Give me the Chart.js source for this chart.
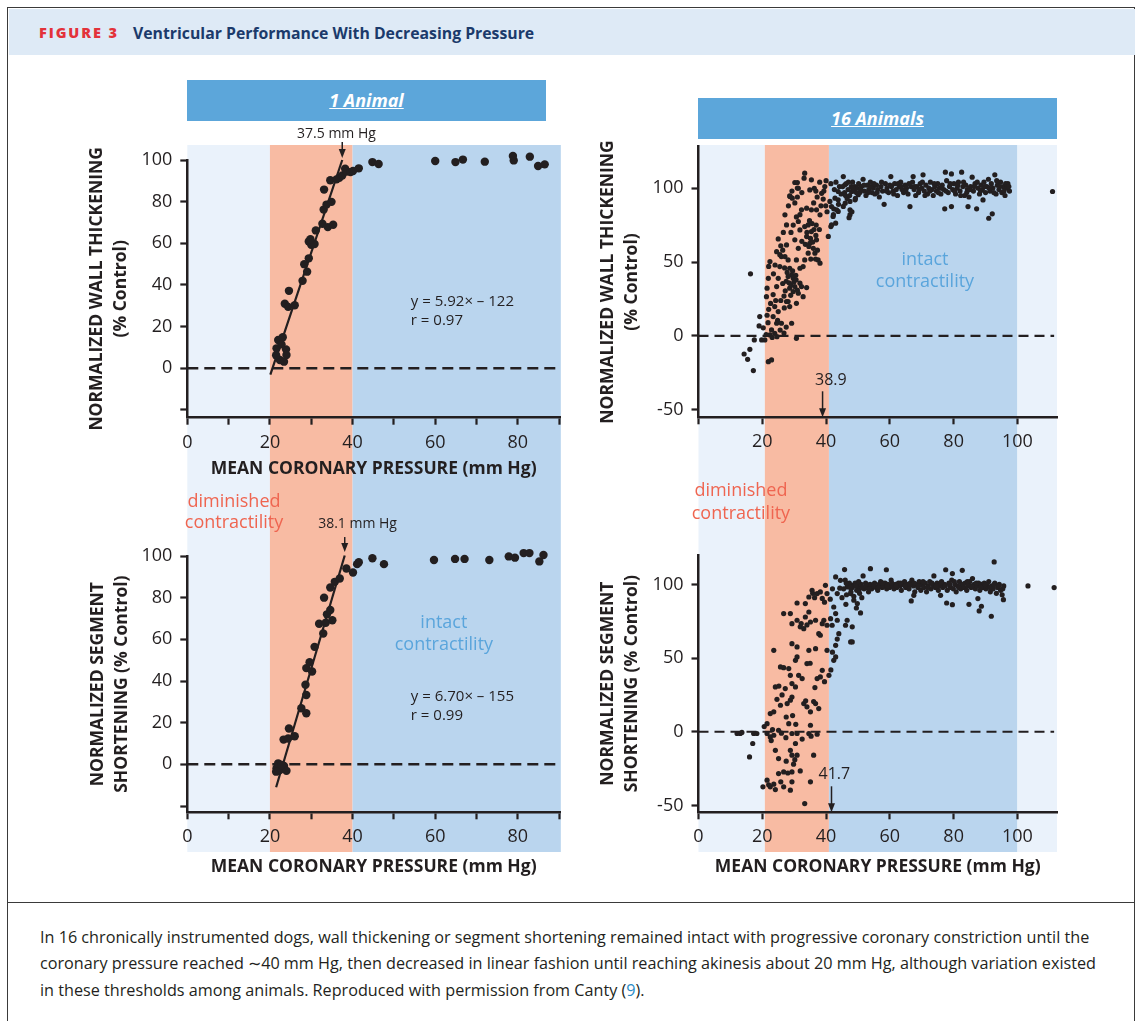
<!DOCTYPE html>
<html>
<head>
<meta charset="utf-8">
<script src="https://cdn.jsdelivr.net/npm/chart.js@4.4.1/dist/chart.umd.min.js"></script>
<style>
  body { margin: 0; width: 1142px; height: 1021px; position: relative; overflow: hidden; background: #fff; font-family: 'Open Sans', sans-serif; color: #231f20; }
  .frame { position: absolute; left: 7px; top: 7px; width: 1126px; height: 1040px; border: 1.5px solid #3a3a3a; }
  .head { position: absolute; left: 8.5px; top: 8.5px; width: 1126px; height: 46px; background: #deeaf6; }
  .fig { position: absolute; left: 39px; top: 23px; line-height: 20px; font-size: 14.5px; font-weight: 800; letter-spacing: 1.9px; color: #e3323a; }
  .ttl { position: absolute; left: 133px; top: 23px; line-height: 20px; font-size: 15.8px; font-weight: 700; color: #1b3a6b; }
  .sep { position: absolute; left: 7px; top: 902px; width: 1128px; border-top: 1.5px solid #3a3a3a; }
  .bar { position: absolute; width: 359px; height: 41px; background: #5ca6da; color: #fff; font-weight: 700; font-style: italic; font-size: 18px; text-align: center; line-height: 41px; text-decoration: underline; }
  canvas { position: absolute; }
  .cap { position: absolute; left: 40px; top: 924px; font-size: 16.2px; line-height: 26.3px; white-space: nowrap; }
  .cap span { color: #2a8cc6; }
</style>
</head>
<body>
<div class="frame"></div>
<div class="head"></div>
<div class="fig">FIGURE 3</div>
<div class="ttl">Ventricular Performance With Decreasing Pressure</div>
<div class="bar" style="left:187px; top:80px;">1 Animal</div>
<div class="bar" style="left:698px; top:98px;">16 Animals</div>
<canvas id="wallOneChart" width="490" height="355" style="left:80px; top:125px;"></canvas>
<canvas id="segOneChart" width="490" height="405" style="left:80px; top:480px;"></canvas>
<canvas id="wallAllChart" width="480" height="355" style="left:590px; top:125px;"></canvas>
<canvas id="segAllChart" width="480" height="405" style="left:590px; top:480px;"></canvas>
<div class="sep"></div>
<div class="cap">In 16 chronically instrumented dogs, wall thickening or segment shortening remained intact with progressive coronary constriction until the<br>coronary pressure reached ∼40 mm Hg, then decreased in linear fashion until reaching akinesis about 20 mm Hg, although variation existed<br>in these thresholds among animals. Reproduced with permission from Canty (<span>9</span>).</div>
<script>
// 1 animal, wall thickening: [pressure, % control]
const wallOne = [[22.0,13.6],[23.1,14.9],[21.6,9.6],[23.9,9.1],[22.4,4.0],[23.4,3.2],[21.5,6.3],[24.0,6.4],[22.8,11.5],
  [23.6,31],[24.6,37.2],[24.4,29.5],[26,30.3],[27.9,42],[29,46.4],[28.3,50],[29.4,52.8],[29.4,60.9],[30,59.3],[30.8,59.7],
  [29.8,62],[31.1,66.2],[32.7,69.4],[33,76.2],[33.7,78.6],[34,67.8],[35.3,68.9],[34.9,79.9],[33.1,85.8],[34.6,90.3],
  [36.1,90.7],[36.8,91.5],[37.5,92.6],[38.2,95.8],[38.6,94.5],[39.5,94.2],[40.1,94.7],[41.5,96],[44.8,99],[46.3,98.1],
  [60,99.5],[64.9,99],[66.7,100.2],[72,99.2],[77.1,102.4],[79,99.8],[78.8,101.9],[81.2,102.6],[82.4,102.3],[82.9,101.6],
  [84.9,97.1],[86.5,97.9]];

// 1 animal, segment shortening
const segOne = [[21.6,-1.9],[22.4,-2.7],[23.4,-0.8],[24,-3.1],[22,0.5],[22.8,-0.3],[21.5,-3.5],
  [23.3,11.9],[24.6,17.2],[24.4,12.4],[26,13.5],[27.6,26.9],[28.8,24.5],[28.8,33.3],[28.6,38.2],[28.8,46.2],[29.6,49],
  [30.2,44.6],[30.8,56.4],[31.9,67.5],[32.9,62.8],[33.1,80],[33.5,68],[33.8,72],[34.6,74.1],[35.1,69.2],[34.6,84.9],
  [35.7,87.6],[36.9,89.2],[38.5,94],[40.1,92.1],[41.1,96.1],[41.5,97],[44.8,98.9],[47.6,96.1],[59.7,98.1],[64.8,98.6],
  [67.1,98.6],[73.1,98.1],[76.6,102.9],[77.8,99.8],[79.3,99.2],[81.4,101.4],[82.8,101.4],[85.2,97.4],[86.2,100.5]];

// 16 animals, wall thickening
const wallAll = [[16.3,42],[14.3,-12.2],[16.1,-9],[15.4,-15.8],[17.2,-23.4],[17.5,-2.7],[19.2,13.1],[19,6.8],[19.8,-2.7],
  [20.8,-2.7],[21.9,-17.4],[22.9,-16.2],[21.3,26.6],[21.5,32.3],[21.9,39],[22.4,50.3],[22,47],[23.4,13.1],[24.5,8.6],
  [22.9,4.1],[23.9,1.8],[22.4,0.7],[26,8.6],[29.2,8.6],[30.7,-1.6],[23.9,19.9],[25,16.5],[27.6,23.3],[28.6,19.9],
  [24.5,33.4],[25,39],[25.5,46.9],[26,53.7],[27.1,53.7],[28.1,51.4],[27.1,81.9],[27.6,75.1],[28.6,94.7],[30.2,103.8],
  [31.3,99.9],[33.3,110.1],[33.1,106.7],[35.4,105.6],[36.3,99.9],[34.9,98.8],[25,65.6],[27.6,61.6],[30.2,65],[31.3,59.3],
  [28.6,45.8],[29.2,41.3],[28.1,40.2],[29.7,39],[30.2,33.4],[28.6,32.3],[29.7,30],[31.8,35.7],[31.3,28.9],[32.3,33.4],
  [32.8,46.9],[31.8,45.8],[30.7,51.4],[33.3,51.4],[33.9,32.7],[32.8,26.6],[28.1,23.3],[30.7,22.1],[31.3,77.4],[31.8,71.7],
  [33.3,74],[32.3,85.3],[33.9,86.4],[34.4,75.1],[33.9,67.2],[34.9,62.7],[36,59.3],[36.5,56],[34.4,56],[37.5,51.4],
  [38.1,49.2],[35.4,70.6],[37,65],[35.4,85.3],[37,85.3],[38.1,81.9],[39.1,92.6],[39.6,101],[38.6,96.5],
  [27.5,37],[28.4,36],[29,34.5],[29.9,36.5],[30.6,38],[27.8,43],[29.5,44],[30.5,41],[31,31],[28.9,27.5],[27.2,30.5],
  [26.4,35.5],[26.8,27],[25.8,24],[26.9,19],[24.2,24],[23.4,28],[22.6,22],[24.8,10.5],[25.6,4],[21.8,9],[23.1,-1],
  [24.6,-0.5],[26.8,2],[27.5,6],[22,18],[21.5,14],[20.3,5.5],[21.2,1],
  [29,70],[29.7,75],[30.7,80.5],[31.8,82],[32.4,64],[33.5,62],[34,70],[34.8,78],[35.6,76],[36.2,72],[36.8,68],[35.1,66],
  [34.6,60.5],[35.8,63.5],[37.3,58],[36.7,52],[35.2,52],[36.9,75],[37.9,72],[38.4,88],[36.1,90],[37.2,94],[36.8,98],
  [38,104],[39.3,98],[39.9,88],[40.3,84],[41.2,91],[40,105],[41.5,103],[42.6,99],[43.1,104],[44.2,101],[44.7,96],
  [43.9,89],[42.4,86],[30.2,90],[31,94],[32.4,97],[29.3,98],[28.2,88],[26.6,70],[26.4,58],[25.5,55],[27,46],[23.5,42],
  [24,48],[24.5,57],[25.8,61],[28.7,94.4],[29.4,93.2],[31,103.8],[31,100],
  [40.7,67.3],[41.5,74],[43,76.3],[42.3,82],[43.8,84.2],[45.4,87.6],[47.5,82],[47.5,85.3],[46,89.8],[43.8,92.1],
  [49.1,92.1],[50.1,95.5],[41.7,75.1],[42.2,80.8],[41.7,87.5],[43.3,85.3],[42.8,93.2],[43.8,97.7],[45.4,107.8],
  [45.9,102.2],[47.5,91],[48,97.7],[49,101.1],[47.2,80],[48.1,84],[46.6,93],
  [45.2,101],[45.8,97],[46.3,103],[46.9,99],[47.4,95],[47.9,101],[48.3,104],[48.8,98],[49.2,93],[49.7,100],[50.2,103],
  [50.6,97],[51.1,101],[51.6,106],[52,98],[52.5,95],[53,102],[53.4,99],[53.9,104],[54.4,97],[54.8,100],[55.3,96],
  [55.8,102],[56.2,99],[56.7,94],[57.2,101],[57.7,98],[58.2,89],[58.6,103],[59.1,100],[59.6,97],[60.3,107.8],[60.5,101],
  [61,98],[61.5,103],[62,99],[62.4,95],[62.9,101],[63.4,104],[63.8,99],[64.3,97],[64.8,102],[65.2,100],[65.7,96],
  [66.3,87.5],[66.6,101],[67.1,104],[67.3,107.8],[67.6,99],[68.1,95],[68.5,101],[69,97],[69.5,103],[70,100],[70.4,109],
  [70.8,98],[71.3,102],[71.8,96],[72.2,100],[72.7,104],[73.2,99],[73.6,95],[74.1,101],[74.6,98],[75,103],[75.5,100],
  [76,96],[76.4,102],[76.9,99],[77.2,86],[77.4,110.8],[77.8,105],[78.3,97],[78.7,101],[79.3,87.5],[79.3,109.6],[79.7,99],
  [80.1,103],[80.6,96],[81.1,100],[81.5,104],[82,98],[82.5,110.8],[82.9,101],[83.4,95],[83.8,102],[84.3,99],[84.5,87.5],
  [84.8,94],[85.3,101],[85.8,107.4],[86.2,98],[86.7,103],[87.2,86],[87.6,100],[88.1,96],[88.6,102],[89,99],[89.2,92],
  [89.5,104],[90,97],[90.4,101],[90.9,106],[91,79.6],[91.4,98],[91.8,103],[92.1,82.6],[92.3,100],[92.9,109],[93.3,96],
  [93.7,102],[94.2,99],[94.7,104],[95.1,97],[95.6,101],[96.1,95],[96.6,100],[97,103],[97.5,98],[111,97.7],
  [46.1,95],[47,104],[48.5,100],[49.5,97],[50.8,99],[51.9,102],[53.2,97],[54.1,101],[55,103],[56,97],[57.4,104],
  [58.9,98],[60,102],[61.2,96],[62.6,103],[63.6,101],[65,98],[66,103],[67.8,101],[69.2,99],[70.2,104],[71,95],
  [72.5,98],[73.9,103],[75.2,97],[76.2,100],[77.6,98],[78.9,103],[80.3,98],[81.3,102],[82.2,95],[83.1,104],[84.1,97],
  [85,99],[86.4,101],[87.4,104],[88.4,98],[89.8,101],[91.1,100],[92.6,97],[93.5,105],[94.5,101],[95.8,98],[96.3,103],
  [97.3,101]];

// 16 animals, segment shortening
const segAll = [[12.1,-1.2],[13.1,-1.2],[13.6,-0.5],[17.3,-1.2],[18.3,-1.2],[17,-8],[16,-17.1],[20.2,-37.4],[21.5,5.5],
  [20.6,3.5],[21.5,-32.9],[22.5,-37.4],[24.1,-39.3],[23.6,-35.6],[25.1,-28.4],[26.7,-27.3],[28,-28],[29.3,-27.3],
  [31.9,-26.6],[26.7,-37.4],[28.8,-39.7],[29.3,-34],[24.1,-12.6],[25.1,-18.2],[28.8,-12.6],[29.3,-15.9],[30.4,-8],
  [30.9,-15.9],[36.1,-15.9],[35.1,-34],[33.3,-48.8],[22,-36],[25.8,-34],[27.5,-20],[29.8,-22],[30.2,-19],
  [21.5,-1.2],[22.5,-3.5],[23.6,-2.4],[25.1,1],[26,-1],[28.3,5.5],[29.3,-1.2],[30.9,-1.2],[34.6,-1.2],[35.1,4.4],
  [37.2,-1.7],[22.8,-6],[23.2,1.5],[27.4,-4],[32.5,-5],[35.3,-3],
  [22.5,12.3],[23.6,13.5],[25.7,18],[27.8,19.1],[28.8,21.4],[29.3,23.6],[27.2,29.3],[29.3,32.7],[30.4,30.4],[32.5,36.1],
  [31.4,38.3],[28.8,38.3],[28.3,42.9],[25.7,44],[26.7,43.5],[30.4,48.5],[30.9,50.8],[34,46.3],[35,46.5],[24.1,30.4],
  [25.2,31],[26.2,25],[24.6,22],[27.5,10],[29.5,11],[30.5,5],[33,19.1],[34,16.9],[35.1,13.5],[36.7,19.1],[37.7,15.7],
  [33.6,21],[36.1,20.5],[37.2,36.1],[38.2,37.2],[38.8,41.7],[40.9,38.3],[41.5,42],[42.4,48.5],[43,50.8],[39.5,34],
  [36.5,30],[23.6,55.3],[29.3,59.8],[30.9,57.6],[34.6,55.3],[36.7,56.4],[38.2,65.5],[40.3,55.3],[43,58.7],[43.5,62.9],
  [44,66.6],[47.7,61],[42,54],[29.3,73.4],[30.9,75.7],[31.9,71.2],[33.5,77.9],[34.6,81.3],[33,70],[35.1,74.5],
  [36.7,75.7],[37.7,66.6],[38.8,73.4],[39.3,75.7],[40.3,72.3],[41.9,72.3],[41.4,76.8],[43.5,75.7],[43,80.2],[46.6,75.7],
  [46.1,72.3],[32.2,73.5],[34,72.5],[26.7,80.2],[28.8,80.2],[30.9,87.4],[33.5,87],[34.6,91.5],[35.6,96],[37.2,93.8],
  [38.2,94.9],[39.8,99.4],[40.3,93.8],[41.3,90],[42.4,84.7],[43.5,93.8],[43,105.1],[44.5,102.8],[45.8,110.1],[46.6,98.3],
  [47.7,93.8],[48.7,89.3],[49.8,87],[48.2,99.4],[50.3,96],[36.4,91],[38.8,90.5],[39.5,88],[35.8,94],[42,97],[44.3,97.5],
  [45,91],[46.2,86.5],[48.2,71.2],[48.2,61],[50.8,80.7],[51.2,91],[49.5,84],
  [45.5,97],[46,103],[46.4,93],[46.9,99],[47.3,101],[47.8,95],[48.2,98],[48.7,92],[49.1,101],[49.6,96],[50,99],[50.5,94],
  [51,100],[51.6,105.8],[51.9,97],[52.4,101],[52.9,98],[53.3,95],[53.9,110.7],[53.8,100],[54.3,97],[54.7,99],[55.2,101],
  [55.7,98],[56.2,96],[56.6,100],[57.1,102],[57.6,98],[58,99],[58.5,101],[58.9,110],[59,97],[59.4,100],[59.9,98],
  [60.4,103],[60.8,99],[61.3,97],[61.8,100],[62.2,98],[62.7,101],[63.2,99],[63.6,96],[64.1,100],[64.6,102],[65,98],
  [65.5,100],[66,97],[66.4,101],[66.7,88.8],[66.9,103],[67.4,99],[67.5,92.6],[67.8,95],[68.3,100],[68.8,98],[69.2,102],
  [69.7,96],[70.2,100],[70.6,98],[71.1,101],[71.5,95],[72,99],[72.5,102],[72.9,97],[73.4,100],[73.8,105.8],[74.3,98],
  [74.8,101],[75.2,96],[75.7,99],[75.9,92.6],[76.2,102],[76.6,98],[77.1,100],[77.5,110],[77.8,87.4],[78,96],[78.5,101],
  [79,98],[79.4,103],[79.6,86.3],[79.6,107.4],[79.9,97],[80.4,100],[80.8,95],[81.3,99],[81.8,102],[82.2,97],[82.7,109.6],
  [82.7,100],[83.1,98],[83.6,101],[84.1,96],[84.5,99],[84.8,86.5],[85,102],[85.5,98],[85.9,104],[86.4,100],[86.8,97],
  [87.3,99],[87.6,90.4],[87.8,101],[88,82],[88.2,96],[88.7,85.2],[88.7,100],[89.2,98],[89.6,101],[90.1,97],[90.6,99],
  [91,102],[91.5,95],[91.8,78.4],[92,99],[92.4,97],[92.7,115.3],[92.9,101],[93.4,94],[93.8,98],[94.3,100],[94.7,96],
  [95.2,93],[95.6,89.7],[95.7,99],[103.3,99],[111.5,97.9],
  [46.3,101],[47.6,98],[49.3,99],[50.2,102],[51.4,98],[52.6,100],[53.6,97],[55,100],[56.4,98],[57.8,101],[59.2,99],
  [60.6,101],[62,99],[63.4,101],[64.8,99],[66.2,100],[67.6,101],[69,99],[70.4,102],[71.8,98],[73.2,101],[74.6,99],
  [76,101],[77.4,99],[78.8,100],[80.2,102],[81.6,98],[83,100],[84.3,102],[85.7,99],[87.1,101],[88.5,98],[89.9,100],
  [91.3,98],[92.7,100],[94.1,99],[95.4,97]];

// regression fits [slope, intercept] and the pressure range they are drawn over
const wallFit = [5.92, -122];
const wallFitRange = [20.1, 37.5];
const segFit = [6.70, -155];
const segFitRange = [21.5, 38.1];

// thresholds (mm Hg) marked with arrows
const wallOneThreshold = 37.5;
const segOneThreshold = 38.1;
const wallAllThreshold = 38.9;
const segAllThreshold = 41.7;

// pressure zones: akinesis / diminished / intact
const oneZones = [0, 20, 40, 90.4];
const allZones = [0, 20.8, 40.9, 100, 112.4];

// ticks
const oneXTicks = [0, 10, 20, 30, 40, 50, 60, 70, 80, 90];
const oneYTicks = [-20, 0, 20, 40, 60, 80, 100];
const allXTicks = [0, 20, 40, 60, 80, 100];
const allYTicks = [-50, 0, 50, 100];

const ink = '#231f20';
const light = '#eaf2fb', salmon = '#f8bba3', blue = '#bad5ee';
const red = '#ef6550', sky = '#5aa5dc';
const fam = "'Open Sans', sans-serif";

function zonePlugin(edges, colors, top, bottom) {
    return {
        id: 'zones',
        beforeDraw(chart) {
            const ctx = chart.ctx;
            const x = chart.scales.x;
            ctx.save();
            for (let i = 0; i < edges.length - 1; i++) {
                const a = x.getPixelForValue(edges[i]);
                const b = x.getPixelForValue(edges[i + 1]);
                ctx.fillStyle = colors[i];
                ctx.fillRect(a, top, b - a, bottom - top);
            }
            ctx.restore();
        }
    };
}

function notePlugin(notes) {
    return {
        id: 'notes',
        afterDraw(chart) {
            const ctx = chart.ctx;
            const {x, y} = chart.scales;
            ctx.save();
            notes.forEach(n => {
                const px = x.getPixelForValue(n.x);
                const py = y.getPixelForValue(n.y);
                if (n.arrow) {
                    ctx.strokeStyle = ink;
                    ctx.fillStyle = ink;
                    ctx.lineWidth = 1.5;
                    ctx.beginPath();
                    ctx.moveTo(px, py - n.arrow);
                    ctx.lineTo(px, py - 6);
                    ctx.stroke();
                    ctx.beginPath();
                    ctx.moveTo(px - 3.5, py - 9);
                    ctx.lineTo(px + 3.5, py - 9);
                    ctx.lineTo(px, py);
                    ctx.closePath();
                    ctx.fill();
                } else {
                    ctx.fillStyle = n.color || ink;
                    ctx.font = (n.size || 15) + 'px ' + fam;
                    ctx.textAlign = n.align || 'center';
                    ctx.textBaseline = 'middle';
                    ctx.fillText(n.text, px, py);
                }
            });
            ctx.restore();
        }
    };
}

function makePanel(id, pts, opt) {
    const datasets = [{
        data: pts.map(p => ({x: p[0], y: p[1]})),
        pointRadius: opt.dot,
        pointBackgroundColor: ink,
        pointBorderWidth: 0,
        clip: false,
        order: 0
    }, {
        type: 'line',
        data: opt.zero.map(v => ({x: v, y: 0})),
        borderColor: ink,
        borderWidth: opt.dashW,
        borderDash: opt.dash,
        pointRadius: 0,
        clip: false,
        order: 2
    }];
    if (opt.fit) {
        datasets.push({
            type: 'line',
            data: opt.fitRange.map(v => ({x: v, y: opt.fit[0] * v + opt.fit[1]})),
            borderColor: ink,
            borderWidth: 2.2,
            pointRadius: 0,
            clip: false,
            order: 1
        });
    }
    new Chart(document.getElementById(id), {
        type: 'scatter',
        data: {datasets},
        options: {
            responsive: false,
            animation: false,
            devicePixelRatio: 1,
            events: [],
            layout: {padding: {top: opt.top, right: opt.right, bottom: 0, left: 0}},
            plugins: {legend: {display: false}, tooltip: {enabled: false}},
            scales: {
                x: {
                    type: 'linear',
                    min: opt.xMin,
                    max: opt.xMax,
                    afterBuildTicks: s => { s.ticks = opt.xTicks.map(v => ({value: v})); },
                    afterFit: s => { s.height = opt.xH; },
                    ticks: {color: ink, font: {family: fam, size: 18}, padding: 7, maxRotation: 0, autoSkip: false, callback: opt.xLabel},
                    grid: {drawOnChartArea: false, drawTicks: true, tickLength: 7, tickWidth: 2.2, tickColor: ink},
                    border: {color: ink, width: 2.5},
                    title: {
                        display: !!opt.xTitle,
                        text: 'MEAN CORONARY PRESSURE (mm Hg)',
                        color: ink,
                        font: {family: fam, size: 17.5, weight: 'bold', lineHeight: 1.2},
                        padding: {top: 0, bottom: opt.xTitlePad || 0}
                    }
                },
                y: {
                    type: 'linear',
                    min: opt.yMin,
                    max: opt.yMax,
                    afterBuildTicks: s => { s.ticks = opt.yTicks.map(v => ({value: v})); },
                    afterFit: s => { s.width = opt.yW; },
                    ticks: {color: ink, font: {family: fam, size: 18}, padding: 8, autoSkip: false, callback: opt.yLabel},
                    grid: {drawOnChartArea: false, drawTicks: true, tickLength: 7, tickWidth: 2.2, tickColor: ink},
                    border: {color: ink, width: 2.5},
                    title: {
                        display: true,
                        text: opt.yTitle,
                        color: ink,
                        font: {family: fam, size: 17.5, weight: 'bold', lineHeight: 1.37},
                        padding: {top: opt.yTitlePad, bottom: 0}
                    }
                }
            }
        },
        plugins: [zonePlugin(opt.zones, opt.zoneColors, opt.bandTop, opt.bandBottom), notePlugin(opt.notes)]
    });
}

const oneXLabel = v => (v % 20 === 0 ? v : '');
const oneYLabel = v => (v < 0 ? '' : v);
const plainLabel = v => v;

makePanel('wallOneChart', wallOne, {
    dot: 4.2, zero: [0, 89.5], dash: [11, 6], dashW: 2.5,
    fit: wallFit, fitRange: wallFitRange,
    top: 35, right: 10, xH: 62.3, yW: 107.3,
    xMin: 0, xMax: 90.2, yMin: -23.7, yMax: 100,
    xTicks: oneXTicks, yTicks: oneYTicks, xLabel: oneXLabel, yLabel: oneYLabel,
    xTitle: true, xTitlePad: 0,
    yTitle: ['NORMALIZED WALL THICKENING', '(% Control)'], yTitlePad: 5,
    zones: oneZones, zoneColors: [light, salmon, blue], bandTop: 20, bandBottom: 355,
    notes: [
        {x: wallOneThreshold, y: 101, arrow: 16},
        {x: 36.1, y: 112.5, text: wallOneThreshold + ' mm Hg', size: 14},
        {x: 54.1, y: 32, text: 'y = ' + wallFit[0].toFixed(2) + '× – ' + (-wallFit[1]), align: 'left'},
        {x: 54.1, y: 23, text: 'r = 0.97', align: 'left'}
    ]
});

makePanel('segOneChart', segOne, {
    dot: 4.2, zero: [0, 89.5], dash: [11, 6], dashW: 2.5,
    fit: segFit, fitRange: segFitRange,
    top: 76, right: 10, xH: 72.7, yW: 107.3,
    xMin: 0, xMax: 90.2, yMin: -23, yMax: 100,
    xTicks: oneXTicks, yTicks: oneYTicks, xLabel: oneXLabel, yLabel: oneYLabel,
    xTitle: true, xTitlePad: 7.8,
    yTitle: ['NORMALIZED SEGMENT', 'SHORTENING (% Control)'], yTitlePad: 6,
    zones: oneZones, zoneColors: [light, salmon, blue], bandTop: 0, bandBottom: 372,
    notes: [
        {x: segOneThreshold, y: 101.9, arrow: 15},
        {x: 41.2, y: 115.2, text: segOneThreshold + ' mm Hg', size: 14},
        {x: 54.1, y: 32.5, text: 'y = ' + segFit[0].toFixed(2) + '× – ' + (-segFit[1]), align: 'left'},
        {x: 54.1, y: 23.3, text: 'r = 0.99', align: 'left'},
        {x: 11.3, y: 126, text: 'diminished', color: red, size: 18},
        {x: 11.3, y: 115.7, text: 'contractility', color: red, size: 18},
        {x: 62.1, y: 68, text: 'intact', color: sky, size: 18},
        {x: 62.1, y: 57.3, text: 'contractility', color: sky, size: 18}
    ]
});

makePanel('wallAllChart', wallAll, {
    dot: 2.6, zero: [0, 111.5], dash: [10, 6], dashW: 2.2,
    top: 21.7, right: 13, xH: 62.7, yW: 108.5,
    xMin: 0, xMax: 112.4, yMin: -55, yMax: 128,
    xTicks: allXTicks, yTicks: allYTicks, xLabel: v => (v === 0 ? '' : v), yLabel: plainLabel,
    xTitle: false,
    yTitle: ['NORMALIZED WALL THICKENING', '(% Control)'], yTitlePad: 6,
    zones: allZones, zoneColors: [light, salmon, blue, light], bandTop: 20, bandBottom: 355,
    notes: [
        {x: wallAllThreshold, y: -55, arrow: 26},
        {x: 41.5, y: -29.8, text: String(wallAllThreshold), size: 16},
        {x: 71, y: 51.4, text: 'intact', color: sky, size: 18},
        {x: 71, y: 36.5, text: 'contractility', color: sky, size: 18}
    ]
});

makePanel('segAllChart', segAll, {
    dot: 2.6, zero: [0, 111.5], dash: [10, 6], dashW: 2.2,
    top: 75, right: 13, xH: 72.7, yW: 108.5,
    xMin: 0, xMax: 112.4, yMin: -54.7, yMax: 120,
    xTicks: allXTicks, yTicks: allYTicks, xLabel: plainLabel, yLabel: plainLabel,
    xTitle: true, xTitlePad: 7.8,
    yTitle: ['NORMALIZED SEGMENT', 'SHORTENING (% Control)'], yTitlePad: 6,
    zones: allZones, zoneColors: [light, salmon, blue, light], bandTop: 0, bandBottom: 372,
    notes: [
        {x: segAllThreshold, y: -54.7, arrow: 26},
        {x: 42.6, y: -28.7, text: String(segAllThreshold), size: 16},
        {x: 13.3, y: 163.3, text: 'diminished', color: red, size: 18},
        {x: 13.3, y: 148.2, text: 'contractility', color: red, size: 18}
    ]
});
</script>
</body>
</html>
